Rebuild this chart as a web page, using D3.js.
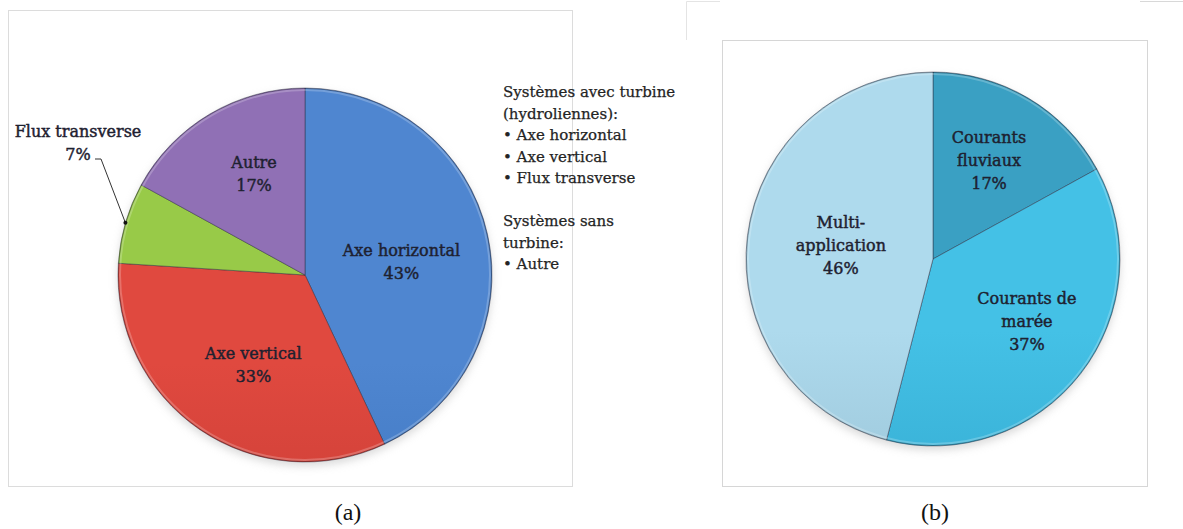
<!DOCTYPE html>
<html>
<head>
<meta charset="utf-8">
<script src="https://cdn.jsdelivr.net/npm/d3@7"></script>
<style>
  body { margin: 0; background: #fff; }
  svg { display: block; }
  .lbl { font-family: "DejaVu Serif", serif; font-size: 16px; fill: #1e2130; stroke: #1e2130; stroke-width: 0.45px; }
  .leg { font-family: "DejaVu Serif", serif; font-size: 15px; fill: #242424; stroke: #242424; stroke-width: 0.25px; }
  .cap { font-family: "Liberation Serif", serif; font-size: 24px; fill: #111; }
</style>
</head>
<body>
<div id="canvas"></div>
<script>
// (a) systems by technology
var catA = ["Axe horizontal", "Axe vertical", "Flux transverse", "Autre"];
var valA = [43, 33, 7, 17];
// (b) systems by application
var catB = ["Courants fluviaux", "Courants de marée", "Multi-application"];
var valB = [17, 37, 46];
// label lines shown inside the slices
var linesB = [["Courants", "fluviaux"], ["Courants de", "marée"], ["Multi-", "application"]];
// legend text of panel (a)
var legendA = ["Systèmes avec turbine", "(hydroliennes):", "• Axe horizontal", "• Axe vertical", "• Flux transverse", "", "Systèmes sans", "turbine:", "• Autre"];

var coloursA = [["#4f86d0", "#3169b3"], ["#e0493f", "#b8332e"], ["#98ca48", "#73a630"], ["#9070b5", "#6a4b91"]];
var coloursB = [["#3aa0c3", "#2884a5"], ["#44c1e6", "#2899bf"], ["#aedaed", "#86afc2"]];

// small label nudges (px), like the hand placed labels of the original
var nudge = {
  "Axe horizontal": [-9, 10], "Axe vertical": [9, 0], "Autre": [4, -9],
  "Courants fluviaux": [0, -4], "Courants de marée": [7, -5], "Multi-application": [17, 0]
};

var ChartUtil = {
  svg: null,

  init: function() {
    ChartUtil.svg = d3.select("#canvas").append("svg")
      .attr("width", 1183)
      .attr("height", 529);
    var defs = ChartUtil.svg.append("defs");
    defs.append("filter").attr("id", "shadow")
      .attr("x", "-20%").attr("y", "-20%").attr("width", "140%").attr("height", "140%")
      .append("feGaussianBlur").attr("stdDeviation", 4);

    ChartUtil.frames();
    ChartUtil.drawPie({
      id: "a", cx: 305, cy: 275, r: 187, labelR: 108,
      cats: catA, vals: valA, colours: coloursA,
      lines: catA.map(function(c) { return [c]; }),
      outside: "Flux transverse"
    });
    ChartUtil.drawPie({
      id: "b", cx: 933, cy: 259, r: 187, labelR: 110,
      cats: catB, vals: valB, colours: coloursB,
      lines: linesB, outside: null
    });
    ChartUtil.legend();

    ChartUtil.svg.append("text").attr("class", "cap")
      .attr("x", 348).attr("y", 520).attr("text-anchor", "middle").text("(a)");
    ChartUtil.svg.append("text").attr("class", "cap")
      .attr("x", 935).attr("y", 520).attr("text-anchor", "middle").text("(b)");
  },

  frames: function() {
    var g = ChartUtil.svg.append("g")
      .attr("fill", "none").attr("stroke", "#dcdcdc").attr("stroke-width", 1);
    g.append("rect").attr("x", 8.5).attr("y", 10.5).attr("width", 564).attr("height", 476);
    g.append("rect").attr("x", 722.5).attr("y", 40.5).attr("width", 425).attr("height", 446)
      .attr("stroke", "#d6d6d6");
    // bits of the neighbouring frame at the top
    g.append("path").attr("d", "M686.5,40V1.5H720").attr("stroke", "#e4e4e4");
    g.append("path").attr("d", "M1140,1.5H1183").attr("stroke", "#d8d8d8");
  },

  drawPie: function(o) {
    var pie = d3.pie().sort(null).value(function(d) { return d; });
    var arcs = pie(o.vals);
    var arc = d3.arc().innerRadius(0).outerRadius(o.r);
    var labelArc = d3.arc().innerRadius(o.labelR).outerRadius(o.labelR);

    var defs = ChartUtil.svg.select("defs");
    o.colours.forEach(function(c, i) {
      var gr = defs.append("linearGradient")
        .attr("id", "grad-" + o.id + i)
        .attr("gradientUnits", "userSpaceOnUse")
        .attr("x1", 0).attr("y1", o.cy - o.r).attr("x2", 0).attr("y2", o.cy + o.r);
      gr.append("stop").attr("offset", "0%").attr("stop-color", c[0]);
      gr.append("stop").attr("offset", "100%").attr("stop-color", c[1]);
    });

    // soft shadow
    ChartUtil.svg.append("circle")
      .attr("cx", o.cx).attr("cy", o.cy + 4).attr("r", o.r)
      .attr("fill", "#bbb").attr("opacity", 0.55).attr("filter", "url(#shadow)");

    var g = ChartUtil.svg.append("g")
      .attr("transform", "translate(" + o.cx + "," + o.cy + ")");

    g.selectAll(".slice")
      .data(arcs)
      .enter().append("path")
      .attr("class", "slice")
      .attr("d", arc)
      .attr("fill", function(d, i) { return "url(#grad-" + o.id + i + ")"; })
      .attr("stroke", "rgba(40,40,60,0.45)")
      .attr("stroke-width", 1);

    // bevel on the rim
    g.append("circle").attr("r", o.r - 2)
      .attr("fill", "none").attr("stroke", "rgba(255,255,255,0.22)").attr("stroke-width", 2);
    g.append("circle").attr("r", o.r - 0.5)
      .attr("fill", "none").attr("stroke", "rgba(0,0,0,0.22)").attr("stroke-width", 1);

    // labels
    var lh = 23;
    arcs.forEach(function(d, i) {
      var cat = o.cats[i];
      var pct = Math.round(d.value / d3.sum(o.vals) * 100) + "%";
      if (cat === o.outside) {
        var mid = (d.startAngle + d.endAngle) / 2;
        var px = Math.sin(mid) * o.r, py = -Math.cos(mid) * o.r;
        var tx = -227, ty = -138;
        g.append("text").attr("class", "lbl").attr("text-anchor", "middle")
          .attr("x", tx).attr("y", ty).text(cat);
        g.append("text").attr("class", "lbl").attr("text-anchor", "middle")
          .attr("x", tx).attr("y", ty + lh).text(pct);
        g.append("path")
          .attr("d", "M" + (tx + 17) + "," + (ty + lh - 1) + "H" + (tx + 23) + "L" + px + "," + py)
          .attr("fill", "none").attr("stroke", "#333").attr("stroke-width", 1);
        g.append("circle").attr("cx", px).attr("cy", py).attr("r", 2).attr("fill", "#111");
        return;
      }
      var c = labelArc.centroid(d);
      var n = nudge[cat] || [0, 0];
      var lines = o.lines[i].concat([pct]);
      var y0 = c[1] + n[1] - (lines.length - 1) * lh / 2 + 6;
      lines.forEach(function(t, k) {
        g.append("text").attr("class", "lbl").attr("text-anchor", "middle")
          .attr("x", c[0] + n[0]).attr("y", y0 + k * lh).text(t);
      });
    });
  },

  legend: function() {
    ChartUtil.svg.append("g").selectAll("text")
      .data(legendA)
      .enter().append("text")
      .attr("class", "leg")
      .attr("x", 503)
      .attr("y", function(d, i) { return 97 + i * 21.5; })
      .text(function(d) { return d; });
  }
};
ChartUtil.init();
</script>
</body>
</html>
